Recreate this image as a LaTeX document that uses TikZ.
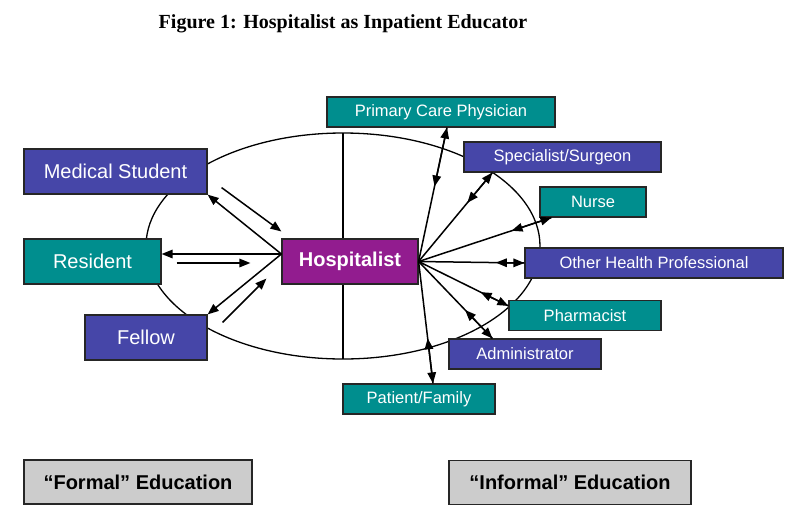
\documentclass[tikz,border=0pt]{standalone}
\usepackage{fontspec}
\setmainfont{Liberation Sans}
\newfontfamily\titlefont{Liberation Serif}
\usetikzlibrary{arrows.meta,calc}

\definecolor{roleblue}{RGB}{70,70,168}
\definecolor{roleteal}{RGB}{0,142,142}
\definecolor{hospurple}{RGB}{146,28,143}
\definecolor{labelgray}{RGB}{204,204,204}

\begin{document}
\begin{tikzpicture}[x=1pt, y=-1pt, line width=1.5pt,
  >={Triangle[length=11pt,width=8.5pt]},
  rolebox/.style={draw=black!85, line width=1.2pt, text=white, inner sep=0pt, align=center},
  bigrole/.style={rolebox, minimum height=45pt, font=\fontsize{20}{24}\selectfont},
  smallrole/.style={rolebox, minimum height=30pt, font=\fontsize{16.5}{20}\selectfont},
  kindbox/.style={draw=black!85, line width=1.2pt, fill=labelgray, minimum height=44pt,
    inner sep=0pt, font=\bfseries\fontsize{20}{24}\selectfont}]
  \useasboundingbox (0,0) rectangle (800,531);

  % Title
  \node (title) at (343,24) {\titlefont\bfseries\fontsize{20}{24}\selectfont Figure 1: Hospitalist as Inpatient Educator};

  % Ellipse and divider
  \draw[line width=1.3pt] (343,246) ellipse [x radius=197pt, y radius=113pt];
  \draw[line width=1.3pt] (343,133) -- (343,359);

  % Formal side
  \node[bigrole, fill=roleblue, minimum width=183pt] (medstu) at (115.5,171.5) {Medical Student};
  \node[bigrole, fill=roleteal, minimum width=137pt] (resident) at (92.5,261.5) {Resident};
  \node[bigrole, fill=roleblue, minimum width=122pt] (fellow) at (146,337.5) {Fellow};

  % Hospitalist
  \node[bigrole, fill=hospurple, minimum width=136pt, font=\bfseries\fontsize{20}{24}\selectfont] (hosp) at (350,261.5) {Hospitalist};

  % Informal side
  \node[smallrole, fill=roleteal, minimum width=228pt] (pcp) at (441,112) {Primary Care Physician};
  \node[smallrole, fill=roleblue, minimum width=197pt] (spec) at (562.5,157) {Specialist/Surgeon};
  \node[smallrole, fill=roleteal, minimum width=106pt] (nurse) at (593,202) {Nurse};
  \node[smallrole, fill=roleblue, minimum width=258pt] (other) at (654,263) {Other Health Professional};
  \node[smallrole, fill=roleteal, minimum width=152pt] (pharm) at (585,315.5) {Pharmacist};
  \node[smallrole, fill=roleblue, minimum width=152pt] (admin) at (525,354) {Administrator};
  \node[smallrole, fill=roleteal, minimum width=152pt] (patient) at (419,399) {Patient/Family};

  % Kinds of education
  \node[kindbox, minimum width=228pt] (formal) at (138,482) {“Formal” Education};
  \node[kindbox, minimum width=242pt] (informal) at (570,482.5) {“Informal” Education};

  % Formal connectors
  \coordinate (hL) at ([yshift=7.5pt]hosp.west);
  \draw[->] (hL) -- (medstu.south east);
  \draw[->] ([xshift=14pt,yshift=7pt]medstu.south east) -- ([yshift=30pt]hosp.west);
  \draw[->] (hL) -- (hL -| resident.east);
  \draw[->] ([xshift=15pt,yshift=-1.5pt]resident.east) -- ([xshift=-31pt,yshift=-1.5pt]hosp.west);
  \draw[->] (hL) -- (fellow.north east);
  \draw[->] ([xshift=15pt,yshift=-8pt]fellow.north east) -- ([xshift=-15pt,yshift=6pt]hosp.south west);

  % Informal connectors
  \coordinate (hR) at (hosp.east);
  \coordinate (tPcp) at ([xshift=6pt]pcp.south);
  \coordinate (tSpec) at ([xshift=29pt]spec.south west);
  \coordinate (tNurse) at ([xshift=12pt]nurse.south west);
  \coordinate (tOther) at (other.west);
  \coordinate (tPharm) at ([yshift=-6pt]pharm.north west);
  \coordinate (tAdmin) at ([xshift=44pt]admin.north west);
  \coordinate (tPatient) at ([xshift=14pt]patient.north);
  \draw[->] (hR) -- (tPcp);
  \draw[->] (tPcp) -- ($(hR)!0.56!(tPcp)$);
  \draw[->] (hR) -- (tSpec);
  \draw[->] (tSpec) -- ($(hR)!0.66!(tSpec)$);
  \draw[->] (hR) -- (tNurse);
  \draw[->] (tNurse) -- ($(hR)!0.70!(tNurse)$);
  \draw[->] (hR) -- (tOther);
  \draw[->] (tOther) -- ($(hR)!0.73!(tOther)$);
  \draw[->] (hR) -- (tPharm);
  \draw[->] (tPharm) -- ($(hR)!0.69!(tPharm)$);
  \draw[->] (hR) -- (tAdmin);
  \draw[->] (tAdmin) -- ($(hR)!0.63!(tAdmin)$);
  \draw[->] (hR) -- (tPatient);
  \draw[->] (tPatient) -- ($(hR)!0.63!(tPatient)$);
\end{tikzpicture}
\end{document}
